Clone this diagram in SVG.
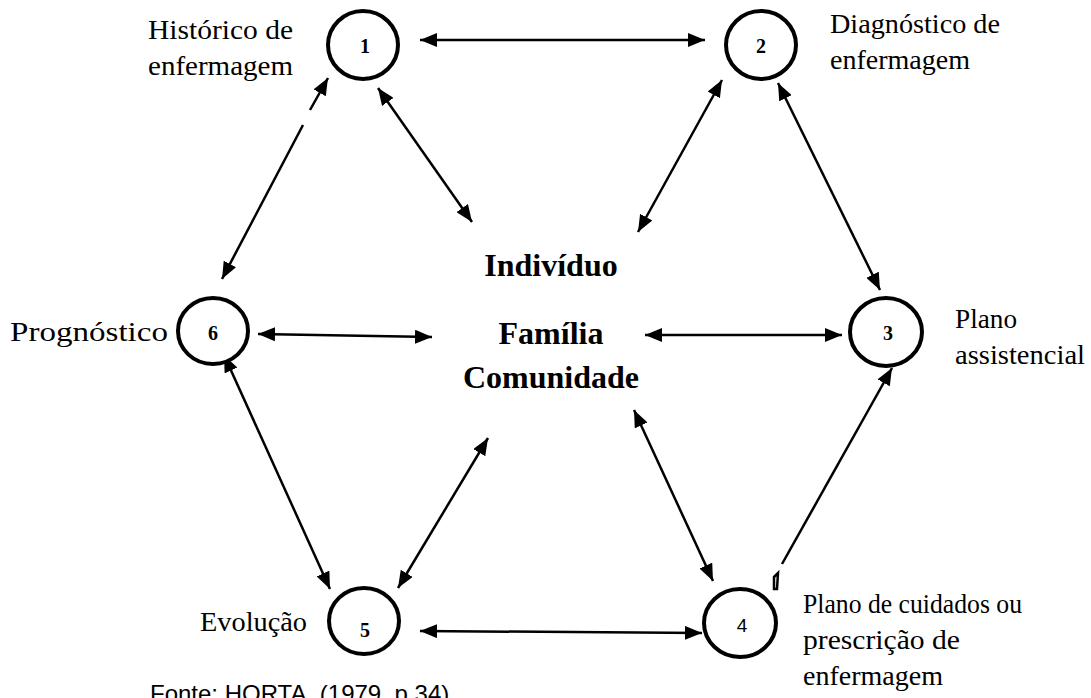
<svg xmlns="http://www.w3.org/2000/svg" width="1091" height="698" viewBox="0 0 1091 698">
<defs>
<marker id="ah" markerUnits="userSpaceOnUse" markerWidth="18" markerHeight="14" refX="17" refY="7" orient="auto-start-reverse" viewBox="0 0 18 14">
<path d="M0,0 L17,7 L0,14 Z" fill="#000"/>
</marker>
<style>
.node ellipse{fill:#fff;stroke:#000;stroke-width:4}
.num{font-family:"Liberation Serif",serif;font-weight:bold;font-size:20px;text-anchor:middle;fill:#000}
.lbl{font-family:"Liberation Serif",serif;font-size:28px;fill:#000}
.ctr{font-family:"Liberation Serif",serif;font-weight:bold;font-size:32px;text-anchor:middle;fill:#000}
.con path{fill:none;stroke:#000;stroke-width:2.5}
</style>
</defs>
<rect width="1091" height="698" fill="#fff"/>
<g class="con" id="connectors">
<path d="M420,40 L705,40" marker-start="url(#ah)" marker-end="url(#ah)"/>
<path d="M378,88 L472,222" marker-start="url(#ah)" marker-end="url(#ah)"/>
<path d="M222,279 L303,125" marker-start="url(#ah)"/>
<path d="M310,110 L328,78" marker-end="url(#ah)"/>
<path d="M722,80 L638,232" marker-start="url(#ah)" marker-end="url(#ah)"/>
<path d="M778,83 L880,290" marker-start="url(#ah)" marker-end="url(#ah)"/>
<path d="M258,334 L432,337" marker-start="url(#ah)" marker-end="url(#ah)"/>
<path d="M645,335 L842,335" marker-start="url(#ah)" marker-end="url(#ah)"/>
<path d="M224,355 L330,589" marker-start="url(#ah)" marker-end="url(#ah)"/>
<path d="M488,438 L398,588" marker-start="url(#ah)" marker-end="url(#ah)"/>
<path d="M634,410 L713,581" marker-start="url(#ah)" marker-end="url(#ah)"/>
<path d="M892,368 L782,564" marker-start="url(#ah)"/>
<path d="M774,577 L778,573 L777,589 L774,589 Z" fill="#000" stroke="none"/>
<path d="M420,631 L702,633" marker-start="url(#ah)" marker-end="url(#ah)"/>
</g>
<g class="node" id="n1"><ellipse cx="363" cy="45" rx="35" ry="34"/><text class="num" x="365" y="53">1</text></g>
<g class="node" id="n2"><ellipse cx="761" cy="45" rx="35" ry="34"/><text class="num" x="761" y="53">2</text></g>
<g class="node" id="n3"><ellipse cx="886" cy="332" rx="36" ry="34"/><text class="num" x="888" y="340">3</text></g>
<g class="node" id="n4"><ellipse cx="740" cy="623" rx="36" ry="34"/><text x="742" y="632" font-family="Liberation Sans, sans-serif" font-size="19" text-anchor="middle">4</text></g>
<g class="node" id="n5"><ellipse cx="364" cy="621" rx="35" ry="33"/><text class="num" x="365" y="637">5</text></g>
<g class="node" id="n6"><ellipse cx="213" cy="331" rx="35" ry="33"/><text class="num" x="213" y="340">6</text></g>
<g id="labels">
<text class="lbl" x="148" y="39" textLength="145" lengthAdjust="spacingAndGlyphs">Histórico de</text>
<text class="lbl" x="148" y="75" textLength="145" lengthAdjust="spacingAndGlyphs">enfermagem</text>
<text class="lbl" x="830" y="33" textLength="170" lengthAdjust="spacingAndGlyphs">Diagnóstico de</text>
<text class="lbl" x="830" y="69" textLength="140" lengthAdjust="spacingAndGlyphs">enfermagem</text>
<text class="lbl" x="10" y="341" textLength="158" lengthAdjust="spacingAndGlyphs">Prognóstico</text>
<text class="lbl" x="955" y="328" textLength="62" lengthAdjust="spacingAndGlyphs">Plano</text>
<text class="lbl" x="955" y="364" textLength="130" lengthAdjust="spacingAndGlyphs">assistencial</text>
<text class="lbl" x="200" y="631" textLength="107" lengthAdjust="spacingAndGlyphs">Evolução</text>
<text class="lbl" x="803" y="613" textLength="219" lengthAdjust="spacingAndGlyphs">Plano de cuidados ou</text>
<text class="lbl" x="803" y="649" textLength="157" lengthAdjust="spacingAndGlyphs">prescrição de</text>
<text class="lbl" x="803" y="685" textLength="140" lengthAdjust="spacingAndGlyphs">enfermagem</text>
</g>
<g id="center">
<text class="ctr" x="551" y="276">Indivíduo</text>
<text class="ctr" x="551" y="344">Família</text>
<text class="ctr" x="551" y="388">Comunidade</text>
</g>
<text x="150" y="702" font-family="Liberation Sans, sans-serif" font-size="24">Fonte: HORTA, (1979, p.34)</text>
</svg>
